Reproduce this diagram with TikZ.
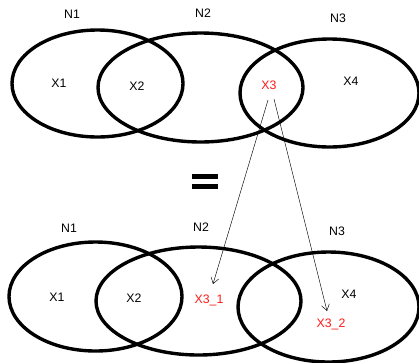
\documentclass[tikz,border=0pt]{standalone}
\usepackage{fontspec}
\setmainfont{Liberation Sans}
\usetikzlibrary{shapes.geometric,arrows.meta}
\begin{document}
\begin{tikzpicture}[x=1pt,y=-1pt,
  set/.style={draw=black,line width=3.4pt,ellipse,inner sep=0pt,fill=none},
  lbl/.style={font=\fontsize{12.3}{14}\selectfont,inner sep=0pt},
  red lbl/.style={lbl,text=red!90!white},
  link/.style={draw=black,line width=0.45pt,-{Straight Barb[length=6pt,width=8pt]}},
  bar/.style={fill=black,draw=none,minimum width=25.5pt,minimum height=4.8pt,inner sep=0pt}]
\useasboundingbox (0,0) rectangle (419,362);
% top
\node[set,minimum width=171pt,minimum height=107pt] (tN1) at (97.5,83.5) {};
\node[set,minimum width=205pt,minimum height=109pt] (tN2) at (200.5,87.5) {};
\node[set,minimum width=179pt,minimum height=108pt] (tN3) at (329.5,93) {};
\node[lbl] (tl1) at (72,14) {N1};
\node[lbl] (tl2) at (203,13) {N2};
\node[lbl] (tl3) at (338,18) {N3};
\node[lbl] (tX1) at (59,83) {X1};
\node[lbl] (tX2) at (137,86) {X2};
\node[red lbl] (tX3) at (269,85) {X3};
\node[lbl] (tX4) at (351,81) {X4};
% equals
\node[bar] (eq1) at (205,176.5) {};
\node[bar] (eq2) at (205,186.5) {};
% bottom
\node[set,minimum width=173pt,minimum height=109pt] (bN1) at (95.5,296.5) {};
\node[set,minimum width=205pt,minimum height=108pt] (bN2) at (198.5,301) {};
\node[set,minimum width=181pt,minimum height=110pt] (bN3) at (328.5,307) {};
\node[lbl] (bl1) at (69,228) {N1};
\node[lbl] (bl2) at (201,227) {N2};
\node[lbl] (bl3) at (337,231) {N3};
\node[lbl] (bX1) at (57,297) {X1};
\node[lbl] (bX2) at (134,298) {X2};
\node[red lbl] (bX31) at (209,300) {X3\_1};
\node[lbl] (bX4) at (349,294) {X4};
\node[red lbl] (bX32) at (331,324) {X3\_2};
% connectors
\coordinate (s1) at (268,100);
\coordinate (s2) at (274,99);
\coordinate (e1) at (213,284);
\coordinate (e2) at (327,311);
\draw[link] (s1) -- (e1);
\draw[link] (s2) -- (e2);
\end{tikzpicture}
\end{document}
